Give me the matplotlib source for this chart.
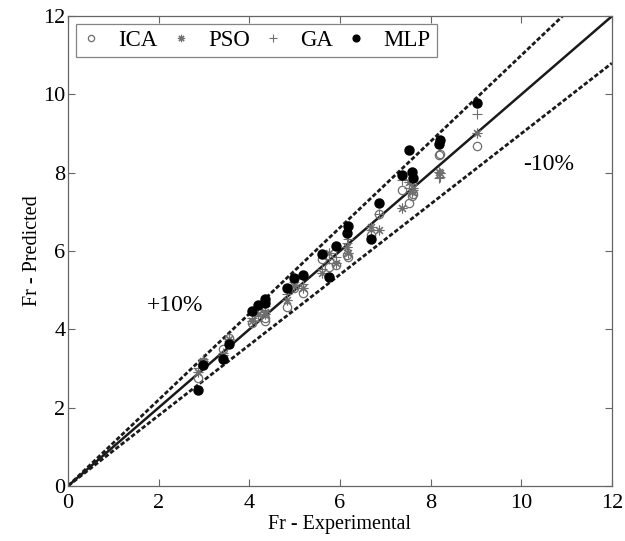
import matplotlib
matplotlib.use('Agg')
import matplotlib.pyplot as plt
import numpy as np

# Experimental values (shared by all models)
fr_exp = [2.87, 2.97, 3.41, 3.55, 4.05, 4.18, 4.35, 4.35, 4.83, 4.98, 5.18, 5.61, 5.76,
          5.91, 6.15, 6.17, 6.68, 6.87, 7.36, 7.53, 7.58, 7.62, 8.19, 8.21, 9.02]

# Predicted values per model
ica_pred = [2.75, 3.17, 3.50, 3.79, 4.17, 4.32, 4.22, 4.28, 4.58, 5.05, 4.92, 5.79, 5.60,
            5.64, 5.90, 5.85, 6.41, 6.95, 7.56, 7.23, 7.41, 7.45, 8.45, 8.48, 8.69]
pso_pred = [2.90, 3.20, 3.35, 3.75, 4.20, 4.40, 4.45, 4.40, 4.75, 5.10, 5.05, 5.43, 5.96,
            5.70, 6.10, 5.95, 6.62, 6.55, 7.09, 7.77, 7.50, 7.60, 8.03, 8.00, 9.02]
ga_pred = [3.00, 3.25, 3.40, 3.70, 4.30, 4.35, 4.60, 4.50, 4.90, 5.20, 5.15, 5.55, 5.80,
           5.85, 6.20, 6.30, 6.55, 6.95, 7.81, 7.60, 7.70, 7.55, 7.86, 7.90, 9.51]
mlp_pred = [2.45, 3.08, 3.25, 3.62, 4.47, 4.61, 4.77, 4.66, 5.06, 5.32, 5.39, 5.92, 5.33,
            6.13, 6.45, 6.65, 6.31, 7.23, 7.94, 8.58, 8.02, 7.86, 8.73, 8.83, 9.79]

plt.rcParams['font.family'] = ['Liberation Serif', 'DejaVu Serif']

fig = plt.figure(figsize=(6.25, 5.41), dpi=100)
ax = fig.add_axes([0.109, 0.102, 0.870, 0.868])

gray = '#6e6e6e'
ax.plot(fr_exp, ica_pred, 'o', mfc='none', mec=gray, mew=0.9, ms=6, label='ICA', zorder=3)
ax.plot(fr_exp, pso_pred, marker=(8, 2, 0), ls='none', color=gray, mew=0.8, ms=7,
        label='PSO', zorder=3)
ax.plot(fr_exp, ga_pred, '+', color=gray, mew=0.8, ms=7, label='GA', zorder=3)
ax.plot(fr_exp, mlp_pred, 'o', color='black', ms=6.5, label='MLP', zorder=4)

xx = np.array([0, 12])
ax.plot(xx, xx, '-', color='#1a1a1a', lw=1.8, zorder=2)
ax.plot(xx, 1.1 * xx, ls=(0, (1.6, 0.8)), color='#1a1a1a', lw=2.0, zorder=2)
ax.plot(xx, 0.9 * xx, ls=(0, (1.6, 0.8)), color='#1a1a1a', lw=2.0, zorder=2)

ax.text(2.36, 4.62, '+10%', fontsize=17, ha='center', va='center')
ax.text(10.6, 8.2, '-10%', fontsize=17, ha='center', va='center')

ax.set_xlim(0, 12)
ax.set_ylim(0, 12)
ax.set_xticks(range(0, 13, 2))
ax.set_yticks(range(0, 13, 2))
ax.tick_params(direction='in', length=5, top=True, right=True, labelsize=16,
               color='#666666')
ax.tick_params(axis='x', pad=6)
ax.tick_params(axis='y', pad=2)
for s in ax.spines.values():
    s.set_color('#666666')
    s.set_linewidth(0.9)

ax.set_xlabel('Fr - Experimental', fontsize=14.5, labelpad=1)
ax.set_ylabel('Fr - Predicted', fontsize=14.5, labelpad=1)

leg = ax.legend(loc='upper left', ncol=4, fontsize=16.5, frameon=True, fancybox=False,
                edgecolor='#666666', handlelength=0.8, handletextpad=0.8,
                columnspacing=0.6, borderaxespad=0.35, borderpad=0.25, markerscale=0.75)
leg.get_frame().set_linewidth(0.9)

plt.savefig('out.png', dpi=100)
